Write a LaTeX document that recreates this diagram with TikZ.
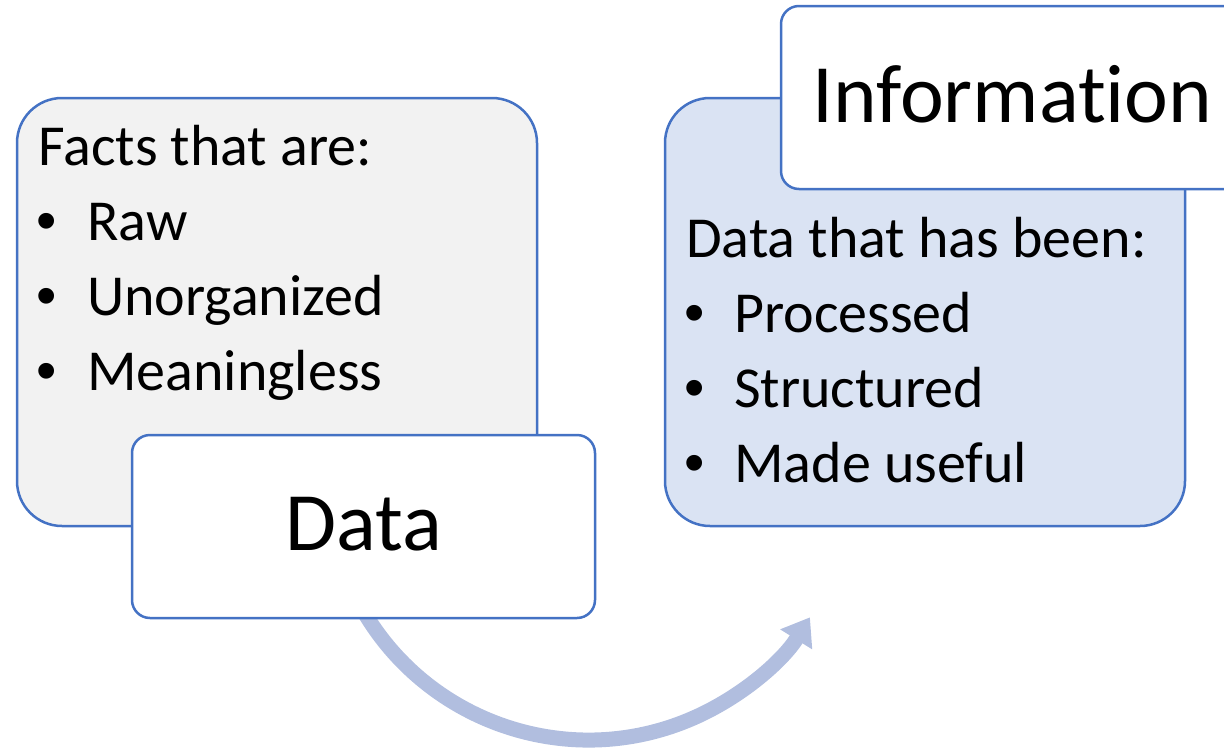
\documentclass[tikz,border=0pt]{standalone}
\usepackage{fontspec}
\setmainfont{Carlito}[Ligatures=NoCommon]
\newfontfamily\bulletfont{Liberation Sans}
\usetikzlibrary{arrows.meta}

\definecolor{accent}{HTML}{4472C4}
\definecolor{greyfill}{HTML}{F2F2F2}
\definecolor{bluefill}{HTML}{DAE3F3}
\definecolor{flowcol}{RGB}{177,190,223}

\tikzset{
  bigbox/.style={draw=accent, line width=2.5pt, rounded corners=45pt,
    minimum width=520pt, minimum height=428pt, inner sep=0pt},
  titlebox/.style={draw=accent, fill=white, line width=2.5pt, rounded corners=18pt,
    minimum width=463pt, minimum height=183pt, inner sep=0pt},
  bodytext/.style={inner sep=0pt, anchor=base west, font=\fontsize{58}{70}\selectfont},
  bullettext/.style={inner sep=0pt, anchor=base west, font=\bulletfont\fontsize{58}{70}\selectfont},
  titletext/.style={inner sep=0pt, anchor=base, font=\fontsize{83}{100}\selectfont},
  flow/.style={draw=flowcol, line width=15pt,
    -{Triangle[length=26pt, width=36pt]}},
}

\begin{document}
\begin{tikzpicture}[x=1pt, y=1pt]
  \useasboundingbox (0,0) rectangle (1224,-755);
  \clip (0,0) rectangle (1224,-755);

  % curved arrow from Data towards Information
  \coordinate (turn) at (588.6,-479);
  \draw[flow] ([shift={(205:261)}]turn) arc[start angle=205, end angle=328, radius=261];

  % Data
  \node[bigbox, fill=greyfill] (facts) at (277,-312) {};
  \node[bodytext] (factshead) at (38,-165) {Facts that are:};
  \node[bullettext] (b1) at (36,-240) {•};
  \node[bodytext] (t1) at (87,-240) {Raw};
  \node[bullettext] (b2) at (36,-315) {•};
  \node[bodytext] (t2) at (87,-315) {Unorganized};
  \node[bullettext] (b3) at (36,-390) {•};
  \node[bodytext] (t3) at (87,-390) {Meaningless};
  \node[titlebox] (data) at (363.5,-526.5) {};
  \node[titletext] (datatext) at (363.5,-550) {Data};

  % Information
  \node[bigbox, fill=bluefill] (info) at (925,-312) {};
  \node[bodytext] (infohead) at (686,-257) {Data that has been:};
  \node[bullettext] (c1) at (684,-332) {•};
  \node[bodytext] (u1) at (734,-332) {Processed};
  \node[bullettext] (c2) at (684,-407) {•};
  \node[bodytext] (u2) at (734,-407) {Structured};
  \node[bullettext] (c3) at (684,-482) {•};
  \node[bodytext] (u3) at (734,-482) {Made useful};
  \node[titlebox] (infotitle) at (1012.5,-97.5) {};
  \node[titletext] (infotext) at (1012.5,-122) {Information};
\end{tikzpicture}
\end{document}
